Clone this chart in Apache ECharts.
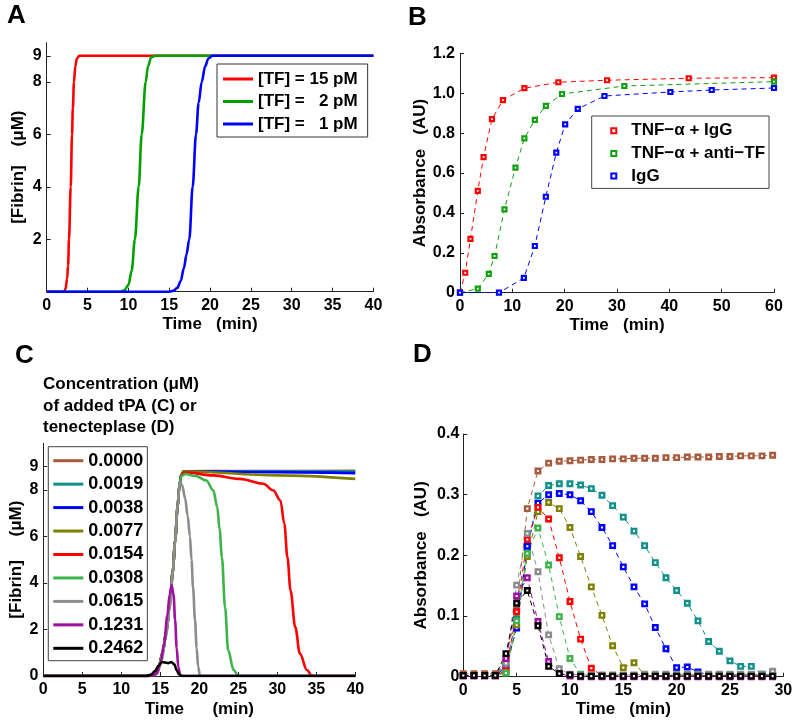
<!DOCTYPE html>
<html>
<head>
<meta charset="utf-8">
<script src="https://cdn.jsdelivr.net/npm/echarts@6/dist/echarts.min.js"></script>
<style>html,body{margin:0;padding:0;background:#fff}#main{width:800px;height:727px}</style>
</head>
<body>
<div id="main"></div>
<script>
// ---------- Panel A: simulated fibrin (µM) vs time (min) ----------
const aNames = ['[TF] = 15 pM', '[TF] =   2 pM', '[TF] =   1 pM'];
const aTF15 = [[0,0],[2.1,0],[2.3,0.1],[2.5,0.5],[2.62,1.0],[2.73,2],[2.94,4],[3.1,6],[3.2,7],[3.34,8],[3.5,8.6],[3.7,8.9],[4.0,9],[40,9]];
const aTF2  = [[0,0],[9.0,0],[9.5,0.05],[10.0,0.25],[10.4,0.8],[10.8,2.0],[11.26,4],[11.63,6],[12.12,8],[12.4,8.6],[12.8,8.95],[13.3,9],[40,9]];
const aTF1  = [[0,0],[15.0,0],[15.5,0.03],[16.0,0.15],[16.4,0.4],[16.8,0.9],[17.1,1.4],[17.46,2],[17.87,4],[18.28,6],[18.6,7.2],[18.98,8],[19.4,8.6],[19.8,8.9],[20.3,9],[40,9]];
const aTicksY = [2,4,6,8,9];

// ---------- Panel B: absorbance (AU) vs time (min) ----------
const bNames = ['TNF\u2212\u03b1 + IgG', 'TNF\u2212\u03b1 + anti\u2212TF', 'IgG'];
const bTimeRed   = [0,1.0,2.0,3.4,4.5,6.1,8.2,12.3,18.8,28.1,43.7,60];
const bValRed    = [0,0.10,0.27,0.51,0.68,0.87,0.965,1.025,1.055,1.065,1.075,1.078];
const bTimeGreen = [0,3.4,5.5,6.6,8.5,10.6,12.3,14.3,16.4,19.5,31.4,60];
const bValGreen  = [0,0.02,0.094,0.184,0.418,0.627,0.774,0.866,0.936,0.996,1.036,1.058];
const bTimeBlue  = [0,7.45,12.2,14.3,16.4,18.4,20.1,22.5,27.6,40.2,48.1,60];
const bValBlue   = [0,0,0.074,0.234,0.481,0.702,0.844,0.921,0.986,1.006,1.016,1.026];

// ---------- Panel C: fibrin (µM) with added tPA ----------
const cNames = ['0.0000','0.0019','0.0038','0.0077','0.0154','0.0308','0.0615','0.1231','0.2462'];
const c0000 = [[0,0],[13.5,0],[14.2,0.1],[14.8,0.4],[15.3,1.0],[15.8,2.0],[16.25,3.2],[16.6,4.5],[16.9,5.8],[17.2,7.2],[17.45,8.2],[17.7,8.65],[18.0,8.8],[25,8.81],[40,8.82]];
const c0019 = [[0,0],[13.5,0],[14.2,0.1],[14.8,0.4],[15.3,1.0],[15.8,2.0],[16.25,3.2],[16.6,4.5],[16.9,5.8],[17.2,7.2],[17.45,8.2],[17.7,8.65],[18.0,8.8],[30,8.8],[40,8.79]];
const c0038 = [[0,0],[13.5,0],[14.2,0.1],[14.8,0.4],[15.3,1.0],[15.8,2.0],[16.25,3.2],[16.6,4.5],[16.9,5.8],[17.2,7.2],[17.45,8.2],[17.7,8.65],[18.0,8.8],[30,8.76],[40,8.72]];
const c0077 = [[0,0],[13.5,0],[14.2,0.1],[14.8,0.4],[15.3,1.0],[15.8,2.0],[16.25,3.2],[16.6,4.5],[16.9,5.8],[17.2,7.2],[17.45,8.2],[17.7,8.65],[18.0,8.8],[30,8.62],[40,8.47]];
const c0154 = [[0,0],[13.5,0],[14.2,0.1],[14.8,0.4],[15.3,1.0],[15.8,2.0],[16.25,3.2],[16.6,4.5],[16.9,5.8],[17.2,7.2],[17.45,8.2],[17.7,8.65],[18.2,8.75],[21.8,8.62],[25.2,8.47],[28.2,8.26],[29.5,7.97],[30.4,7.54],[30.9,6.54],[31.3,5.1],[31.7,3.67],[32.3,2.1],[32.9,0.96],[33.8,0.26],[34.4,0.02],[35,0],[40,0]];
const c0308 = [[0,0],[13.5,0],[14.2,0.1],[14.8,0.4],[15.3,1.0],[15.8,2.0],[16.25,3.2],[16.6,4.5],[16.9,5.8],[17.2,7.2],[17.45,8.2],[17.7,8.6],[18.2,8.68],[19.5,8.6],[20.9,8.4],[21.8,7.97],[22.3,7.26],[22.6,6.3],[22.9,5.1],[23.3,2.96],[23.7,1.1],[24.4,0.26],[25.0,0],[40,0]];
const c0615 = [[0,0],[14.0,0],[14.6,0.1],[15.2,0.7],[15.7,1.7],[16.25,3.0],[16.6,4.4],[16.9,5.8],[17.2,7.3],[17.5,8.35],[17.8,8.2],[18.2,7.6],[18.5,6.9],[18.8,6.0],[19.0,5.0],[19.2,3.8],[19.45,2.4],[19.66,1.2],[19.85,0.4],[20.1,0],[40,0]];
const c1231 = [[0,0],[14.0,0],[14.5,0.1],[15.0,0.5],[15.5,1.4],[15.9,2.6],[16.2,3.5],[16.45,3.9],[16.7,3.5],[16.9,2.4],[17.1,1.2],[17.3,0.4],[17.6,0],[40,0]];
const c2462 = [[0,0],[13.0,0],[13.8,0.05],[14.3,0.2],[14.8,0.45],[15.2,0.6],[15.6,0.58],[16.0,0.55],[16.4,0.6],[16.8,0.5],[17.1,0.25],[17.4,0.07],[17.8,0],[40,0]];
const cTicksY = [0,2,4,6,8,9];

// ---------- Panel D: absorbance (AU) with added tenecteplase ----------
const dTime = [0,1,2,3,4,5,6,7,8,9,10,11,12,13,14,15,16,17,18,19,20,21,22,23,24,25,26,27,28,29];
const d0000 = [0.005,0.005,0.005,0.005,0.03,0.11,0.277,0.339,0.352,0.355,0.356,0.357,0.358,0.358,0.359,0.359,0.36,0.36,0.36,0.361,0.361,0.362,0.362,0.362,0.363,0.363,0.364,0.364,0.364,0.365];
const d0019 = [0.002,0.002,0.002,0.002,0.02,0.095,0.21,0.298,0.315,0.318,0.318,0.316,0.31,0.299,0.282,0.263,0.24,0.216,0.188,0.163,0.142,0.121,0.092,0.058,0.042,0.026,0.017,0.017,0.004,0.003];
const d0038 = [0.002,0.002,0.002,0.002,0.015,0.08,0.215,0.286,0.3,0.302,0.3,0.29,0.272,0.246,0.216,0.181,0.148,0.12,0.081,0.046,0.015,0.016,0.008,0.003,0.003,0.003,0.003,0.003,0.003,0.003];
const d0077 = [0.002,0.002,0.002,0.002,0.008,0.085,0.198,0.272,0.287,0.277,0.246,0.198,0.148,0.101,0.051,0.015,0.023,0.003,0.002,0.002,0.002,0.002,0.002,0.002,0.002,0.002,0.002,0.002,0.002,0.002];
const d0154 = [0.002,0.002,0.002,0.002,0.01,0.107,0.226,0.279,0.26,0.196,0.124,0.062,0.014,0.002,0.001,0.001,0.001,0.001,0.001,0.001,0.001,0.001,0.001,0.001,0.001,0.001,0.001,0.001,0.001,0.001];
const d0308 = [0.002,0.002,0.002,0.002,0.006,0.092,0.203,0.245,0.184,0.099,0.03,0.004,0.002,0.002,0.002,0.002,0.002,0.002,0.002,0.002,0.002,0.002,0.002,0.002,0.002,0.002,0.002,0.002,0.002,0.002];
const d0615 = [0.002,0.002,0.002,0.002,0.022,0.151,0.236,0.173,0.069,0.013,0.004,0.003,0.003,0.003,0.003,0.003,0.003,0.004,0.004,0.004,0.004,0.004,0.004,0.004,0.004,0.004,0.004,0.004,0.004,0.009];
const d1231 = [0.001,0.001,0.001,0.001,0.03,0.133,0.163,0.091,0.025,0.005,0.001,0.0,0.0,0.0,0.0,0.0,0.0,0.0,0.0,0.0,0.0,0.0,0.0,0.0,0.0,0.0,0.0,0.0,0.0,0.0];
const d2462 = [0.002,0.002,0.002,0.002,0.038,0.121,0.142,0.084,0.017,0.005,0.003,0.001,0.001,0.001,0.001,0.001,0.001,0.001,0.001,0.001,0.001,0.001,0.001,0.001,0.001,0.001,0.001,0.001,0.001,0.001];

// ---------- styling ----------
const FONT = 'Liberation Sans, Arial, sans-serif';
const colA = ['#ff0000', '#00a000', '#0000ff'];
const colB = ['#ff0000', '#10a010', '#0000ff'];
const colC = ['#a85a3a', '#10908a', '#0000ff', '#808000', '#ff0000', '#3cb44b', '#8c8c8c', '#a010a0', '#000000'];
const cCurves = [c0000, c0019, c0038, c0077, c0154, c0308, c0615, c1231, c2462];
const dVals = [d0000, d0019, d0038, d0077, d0154, d0308, d0615, d1231, d2462];

const zip = (xs, ys) => xs.map((x, i) => [x, ys[i]]);
const lbl = { fontSize: 16, fontWeight: 'bold', color: '#000', fontFamily: FONT };
const nameStyle = { fontSize: 17, fontWeight: 'bold', color: '#000', fontFamily: FONT };
const axLine = { show: true, lineStyle: { color: '#222', width: 1 } };
const tick = { show: true, inside: true, length: 4, lineStyle: { color: '#222' } };

function xAx(grid, min, max, interval, name, gap) {
  return { type: 'value', gridIndex: grid, min, max, interval,
    axisLine: Object.assign({ onZero: false }, axLine), axisTick: tick, splitLine: { show: false },
    axisLabel: Object.assign({ margin: 6 }, lbl),
    name, nameLocation: 'middle', nameGap: gap, nameTextStyle: nameStyle };
}
function yAx(grid, min, max, extra, name, gap) {
  return Object.assign({ type: 'value', gridIndex: grid, min, max,
    axisLine: Object.assign({ onZero: false }, axLine), splitLine: { show: false },
    name, nameLocation: 'middle', nameGap: gap, nameTextStyle: nameStyle }, extra);
}
const fmt1 = v => (v === 0 ? '0' : v.toFixed(1));

const series = [];
[aTF15, aTF2, aTF1].forEach((d, i) => series.push({
  type: 'line', name: aNames[i], xAxisIndex: 0, yAxisIndex: 0, data: d,
  symbol: 'none', smooth: 0.35, smoothMonotone: 'x', color: colA[i],
  lineStyle: { width: 2.6, color: colA[i] }
}));
[[bTimeRed, bValRed], [bTimeGreen, bValGreen], [bTimeBlue, bValBlue]].forEach((p, i) => series.push({
  type: 'line', name: bNames[i], xAxisIndex: 1, yAxisIndex: 1, data: zip(p[0], p[1]),
  symbol: 'rect', symbolSize: 4, showAllSymbol: true, color: colB[i],
  lineStyle: { width: 1, type: [5, 4], color: colB[i] },
  itemStyle: { color: '#fff', borderColor: colB[i], borderWidth: 2.2 }
}));
cCurves.forEach((d, i) => series.push({
  type: 'line', name: cNames[i], xAxisIndex: 2, yAxisIndex: 2, data: d,
  symbol: 'none', smooth: 0.35, smoothMonotone: 'x', color: colC[i],
  lineStyle: { width: 2.6, color: colC[i] }
}));
dVals.forEach((v, i) => series.push({
  type: 'line', name: cNames[i], xAxisIndex: 3, yAxisIndex: 3, data: zip(dTime, v),
  symbol: 'rect', symbolSize: 4.5, showAllSymbol: true, color: colC[i],
  lineStyle: { width: 1, type: [5, 4], color: colC[i] },
  itemStyle: { color: '#fff', borderColor: colC[i], borderWidth: 2.4 }
}));

const letter = (t, l, tp) => ({ text: t, left: l, top: tp, padding: 0,
  textStyle: { fontSize: 26, fontWeight: 'bold', color: '#000', fontFamily: FONT } });
const lineIcon = names => names.map(n => ({ name: n, icon: 'rect' }));

const option = {
  animation: false,
  backgroundColor: '#fff',
  title: [
    letter('A', 7, 3), letter('B', 408, 5), letter('C', 15, 343), letter('D', 413, 342),
    { text: 'Concentration (\u03bcM)\nof added tPA (C) or\ntenecteplase (D)', left: 43, top: 374, padding: 0,
      textStyle: { fontSize: 17, fontWeight: 'bold', color: '#000', fontFamily: FONT, lineHeight: 21.5 } }
  ],
  grid: [
    { left: 46.7, top: 42.7, width: 326.7, height: 249 },
    { left: 460, top: 53.3, width: 314, height: 239.4 },
    { left: 43.3, top: 443.3, width: 312, height: 232.7 },
    { left: 463.3, top: 434, width: 320, height: 242.7 }
  ],
  xAxis: [
    xAx(0, 0, 40, 5, 'Time   (min)', 24),
    xAx(1, 0, 60, 10, 'Time   (min)', 24),
    xAx(2, 0, 40, 5, 'Time      (min)', 25),
    xAx(3, 0, 30, 5, 'Time   (min)', 24)
  ],
  yAxis: [
    yAx(0, 0, 9.5, {
      axisTick: Object.assign({ customValues: aTicksY }, tick),
      axisLabel: Object.assign({ customValues: aTicksY, margin: 5 }, lbl)
    }, '[Fibrin]    (\u03bcM)', 20),
    yAx(1, 0, 1.2, { interval: 0.2, axisTick: tick,
      axisLabel: Object.assign({ margin: 5, formatter: fmt1 }, lbl) }, 'Absorbance   (AU)', 31),
    yAx(2, 0, 10, {
      axisTick: Object.assign({ customValues: cTicksY }, tick),
      axisLabel: Object.assign({ customValues: cTicksY, margin: 5 }, lbl)
    }, '[Fibrin]     (\u03bcM)', 18),
    yAx(3, 0, 0.4, { interval: 0.1, axisTick: tick,
      axisLabel: Object.assign({ margin: 4, formatter: fmt1 }, lbl) }, 'Absorbance   (AU)', 33)
  ],
  legend: [
    { data: lineIcon(aNames), left: 217, top: 64, orient: 'vertical', backgroundColor: '#fff',
      borderColor: '#333', borderWidth: 1, padding: [6, 10, 4, 6], itemGap: 4.5,
      itemWidth: 30, itemHeight: 3, selectedMode: false,
      textStyle: { fontSize: 17, fontWeight: 'bold', color: '#000', fontFamily: FONT, lineHeight: 18 } },
    { data: bNames.map((n, i) => ({ name: n, icon: 'rect',
        itemStyle: { color: '#fff', borderColor: colB[i], borderWidth: 2 } })),
      left: 591.7, top: 116, orient: 'vertical', backgroundColor: '#fff',
      borderColor: '#444', borderWidth: 1, padding: [5.7, 4, 3.3, 18.6], itemGap: 4.7,
      itemWidth: 5, itemHeight: 5, selectedMode: false,
      textStyle: { fontSize: 17, fontWeight: 'bold', color: '#000', fontFamily: FONT, lineHeight: 18, padding: [0, 0, 0, 10] } },
    { data: lineIcon(cNames), left: 48.3, top: 446.7, orient: 'vertical', backgroundColor: '#fff',
      borderColor: '#444', borderWidth: 1, padding: [4, 4, 2.4, 5], itemGap: 3.45,
      itemWidth: 30, itemHeight: 3, selectedMode: false,
      textStyle: { fontSize: 18, fontWeight: 'bold', color: '#000', fontFamily: FONT, lineHeight: 20 } }
  ],
  series
};

const chart = echarts.init(document.getElementById('main'), null, { renderer: 'canvas' });
chart.setOption(option);
</script>
</body>
</html>
